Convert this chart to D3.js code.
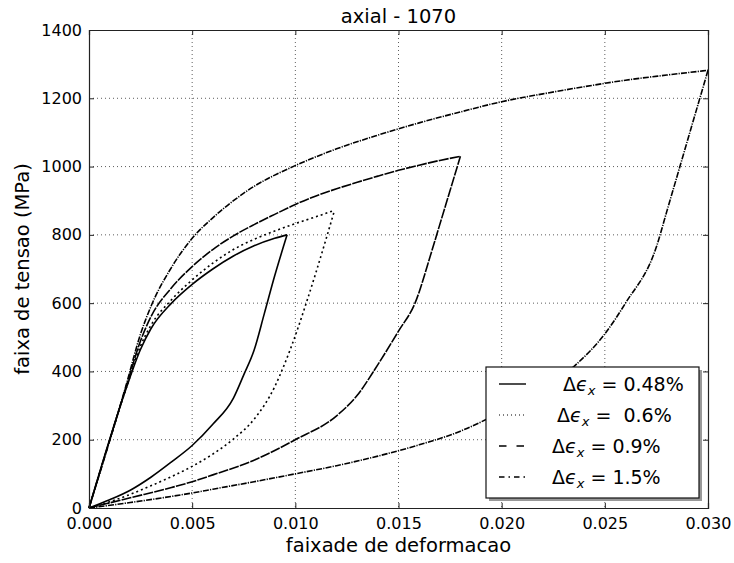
<!DOCTYPE html>
<html lang="en">
<head>
    <meta charset="UTF-8">
    <title>axial - 1070</title>
    <script src="https://cdn.jsdelivr.net/npm/d3@7/dist/d3.min.js"></script>
    <style>
        body { margin: 0; background: #fff; }
        text { font-family: "DejaVu Sans", sans-serif; fill: #000; }
    </style>
</head>
<body>
    <svg width="734" height="563" id="mainsvg"></svg>
    <script>
        // strain range vs stress range, loading and unloading branches [strain, MPa]
        const load048 = [[0,0],[0.0018,350],[0.0025,465],[0.003,525],[0.004,600],[0.005,655],[0.006,700],[0.007,738],[0.008,768],[0.009,790],[0.0096,800]];
        const unload048 = [[0,0],[0.001,24],[0.002,52],[0.003,90],[0.004,135],[0.005,183],[0.006,245],[0.007,322],[0.0075,390],[0.008,462],[0.0085,570],[0.009,680],[0.0096,800]];

        const load06 = [[0,0],[0.0018,350],[0.0025,475],[0.003,535],[0.004,610],[0.005,668],[0.006,717],[0.007,757],[0.008,787],[0.009,811],[0.010,833],[0.011,853],[0.0119,872]];
        const unload06 = [[0,0],[0.001,18],[0.002,40],[0.003,65],[0.004,92],[0.005,122],[0.006,158],[0.007,202],[0.008,260],[0.009,355],[0.0095,425],[0.010,505],[0.0105,595],[0.011,690],[0.0115,790],[0.0119,872]];

        const load09 = [[0,0],[0.0018,355],[0.0025,490],[0.003,560],[0.004,645],[0.005,707],[0.006,757],[0.007,797],[0.008,830],[0.009,860],[0.010,889],[0.011,914],[0.012,935],[0.013,954],[0.014,972],[0.015,989],[0.016,1004],[0.017,1018],[0.018,1030]];
        const unload09 = [[0,0],[0.002,30],[0.004,60],[0.005,77],[0.006,97],[0.008,140],[0.010,200],[0.012,270],[0.013,330],[0.014,420],[0.015,518],[0.0158,600],[0.0166,750],[0.017,830],[0.018,1030]];

        const load15 = [[0,0],[0.0018,360],[0.0025,510],[0.003,590],[0.004,705],[0.005,790],[0.006,850],[0.007,900],[0.008,942],[0.009,975],[0.010,1003],[0.012,1052],[0.014,1092],[0.016,1128],[0.018,1160],[0.020,1190],[0.022,1213],[0.024,1234],[0.026,1253],[0.028,1268],[0.030,1282]];
        const unload15 = [[0,0],[0.002,16],[0.004,34],[0.005,44],[0.006,55],[0.008,77],[0.010,100],[0.012,124],[0.014,152],[0.016,185],[0.018,225],[0.019,252],[0.020,282],[0.022,350],[0.0236,420],[0.025,510],[0.026,600],[0.0275,765],[0.028,868],[0.029,1075],[0.030,1282]];

        const legendValues = ['0.48%', ' 0.6%', '0.9%', '1.5%'];
        const legendIndent = [11, 5, 0, 0];
        const xTicks = [0, 0.005, 0.010, 0.015, 0.020, 0.025, 0.030];
        const yTicks = [0, 200, 400, 600, 800, 1000, 1200, 1400];

        const series = [
            { branches: [load048, unload048], dash: null, legendDash: null, legendColor: '#000' },
            { branches: [load06, unload06], dash: '2,3', legendDash: '1,3', legendColor: '#555' },
            { branches: [load09, unload09], dash: '10,1.2', legendDash: '7.5,10', legendColor: '#000' },
            { branches: [load15, unload15], dash: '6,1.2,1.2,1.2', legendDash: '5.5,4,1.5,4', legendColor: '#000' }
        ];

        const svg = d3.select('#mainsvg');
        const width = +svg.attr('width');
        const height = +svg.attr('height');
        const margin = { top: 30, right: 26, bottom: 55, left: 89 };
        const innerWidth = width - margin.left - margin.right;
        const innerHeight = height - margin.top - margin.bottom;
        const g = svg.append('g').attr('transform', `translate(${margin.left},${margin.top})`);

        const x = d3.scaleLinear().domain([0, 0.03]).range([0, innerWidth]);
        const y = d3.scaleLinear().domain([0, 1400]).range([innerHeight, 0]);

        svg.append('defs').append('clipPath').attr('id', 'clip')
            .append('rect').attr('x', -1).attr('y', -1)
            .attr('width', innerWidth + 2).attr('height', innerHeight + 2);

        // grid
        g.append('g').selectAll('line').data(xTicks.slice(1, -1)).join('line')
            .attr('x1', d => x(d)).attr('x2', d => x(d))
            .attr('y1', 0).attr('y2', innerHeight)
            .attr('stroke', '#333').attr('stroke-width', 0.8).attr('stroke-dasharray', '1,3');
        g.append('g').selectAll('line').data(yTicks.slice(1, -1)).join('line')
            .attr('y1', d => y(d)).attr('y2', d => y(d))
            .attr('x1', 0).attr('x2', innerWidth)
            .attr('stroke', '#333').attr('stroke-width', 0.8).attr('stroke-dasharray', '1,3');

        // curves
        const line = d3.line().x(d => x(d[0])).y(d => y(d[1])).curve(d3.curveMonotoneX);
        const curves = g.append('g').attr('clip-path', 'url(#clip)');
        series.forEach(s => {
            s.branches.forEach(b => {
                curves.append('path').datum(b)
                    .attr('d', line)
                    .attr('fill', 'none')
                    .attr('stroke', '#000')
                    .attr('stroke-width', 1.6)
                    .attr('stroke-dasharray', s.dash);
            });
        });

        // axes, ticks pointing inward on all four sides
        const xAxis = g.append('g').attr('transform', `translate(0,${innerHeight})`)
            .call(d3.axisBottom(x).tickValues(xTicks).tickFormat(d3.format('.3f')).tickSize(-5).tickPadding(10));
        const yAxis = g.append('g')
            .call(d3.axisLeft(y).tickValues(yTicks).tickFormat(d3.format('d')).tickSize(-5).tickPadding(7));
        const xTop = g.append('g')
            .call(d3.axisTop(x).tickValues(xTicks).tickSize(-5));
        const yRight = g.append('g').attr('transform', `translate(${innerWidth},0)`)
            .call(d3.axisRight(y).tickValues(yTicks).tickSize(-5));
        xTop.selectAll('text').remove();
        yRight.selectAll('text').remove();
        [xAxis, yAxis, xTop, yRight].forEach(a => {
            a.select('.domain').attr('stroke', '#222').attr('stroke-width', 1.2);
            a.selectAll('.tick line').attr('stroke', '#222');
            a.selectAll('text').attr('font-size', 16).attr('font-family', 'DejaVu Sans').attr('fill', '#222');
        });

        // labels
        svg.append('text').attr('x', margin.left + innerWidth / 2).attr('y', 23)
            .attr('text-anchor', 'middle').attr('font-size', 19.5).text('axial - 1070');
        svg.append('text').attr('x', margin.left + innerWidth / 2).attr('y', 552)
            .attr('text-anchor', 'middle').attr('font-size', 19.5).text('faixade de deformacao');
        svg.append('text').attr('transform', `translate(29,${margin.top + innerHeight / 2}) rotate(-90)`)
            .attr('text-anchor', 'middle').attr('font-size', 19.5).text('faixa de tensao (MPa)');

        // legend
        const lg = svg.append('g').attr('transform', 'translate(486,367)');
        lg.append('rect').attr('x', 3).attr('y', 3).attr('width', 213).attr('height', 131).attr('fill', '#999');
        lg.append('rect').attr('width', 213).attr('height', 131)
            .attr('fill', '#fff').attr('stroke', '#111').attr('stroke-width', 1.2);
        series.forEach((s, i) => {
            const row = lg.append('g').attr('transform', `translate(0,${17 + i * 31})`);
            row.append('line').attr('x1', 13).attr('x2', 40).attr('y1', 0).attr('y2', 0)
                .attr('stroke', s.legendColor).attr('stroke-width', 1.4)
                .attr('stroke-dasharray', s.legendDash);
            // Δ ϵ_x = value, laid out piece by piece
            let cx = 66 + legendIndent[i];
            const delta = row.append('text').attr('x', cx).attr('y', 7).attr('font-size', 19).text('Δ');
            cx += delta.node().getComputedTextLength();
            const eps = row.append('text').attr('x', cx).attr('y', 7).attr('font-size', 19)
                .attr('font-style', 'italic').text('ϵ');
            cx += eps.node().getComputedTextLength();
            const sub = row.append('text').attr('x', cx).attr('y', 11).attr('font-size', 13)
                .attr('font-style', 'italic').text('x');
            cx += sub.node().getComputedTextLength();
            row.append('text').attr('x', cx).attr('y', 7).attr('font-size', 19)
                .style('white-space', 'pre').text(' = ' + legendValues[i]);
        });
    </script>
</body>
</html>
